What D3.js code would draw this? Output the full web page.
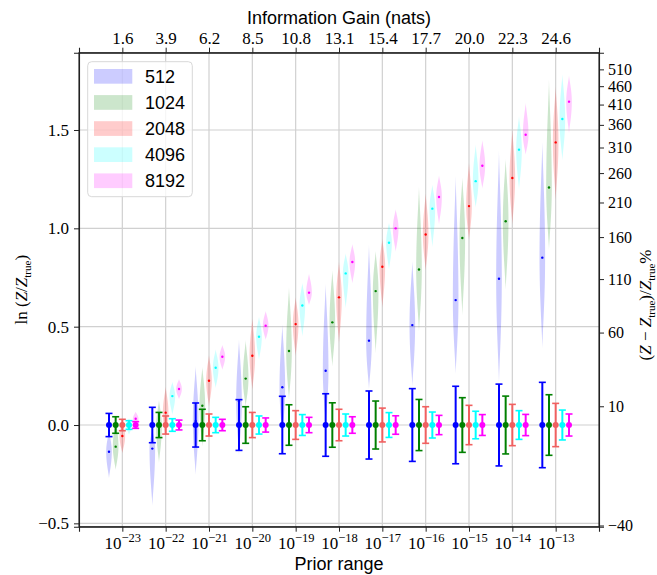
<!DOCTYPE html>
<html>
<head>
<meta charset="utf-8">
<script src="https://cdnjs.cloudflare.com/ajax/libs/d3/7.8.5/d3.min.js"></script>
<style>
body { margin: 0; background: #fff; }
.tick text { font-family: "Liberation Serif", "Times New Roman", serif; font-size: 17px; fill: #000; }
.pct .tick text { font-size: 16px; }
.sans { font-family: "Liberation Sans", Arial, sans-serif; }
.serif { font-family: "Liberation Serif", "Times New Roman", serif; }
</style>
</head>
<body>
<div id="chart"></div>
<script>

///// Data

// prior ranges on the bottom axis and information gain on the top axis
var priorRanges = [1e-23, 1e-22, 1e-21, 1e-20, 1e-19, 1e-18, 1e-17, 1e-16, 1e-15, 1e-14, 1e-13];
var infoGain = ["1.6", "3.9", "6.2", "8.5", "10.8", "13.1", "15.4", "17.7", "20.0", "22.3", "24.6"];
var nSamples = [512, 1024, 2048, 4096, 8192];

// error bar half lengths (one row per sample size)
var errHalf = [
    [0.059, 0.090, 0.112, 0.129, 0.146, 0.159, 0.173, 0.185, 0.197, 0.208, 0.217],
    [0.042, 0.064, 0.080, 0.093, 0.103, 0.113, 0.122, 0.130, 0.139, 0.147, 0.154],
    [0.029, 0.046, 0.056, 0.064, 0.073, 0.080, 0.086, 0.093, 0.100, 0.105, 0.110],
    [0.022, 0.032, 0.039, 0.046, 0.053, 0.056, 0.063, 0.066, 0.070, 0.073, 0.076],
    [0.017, 0.025, 0.029, 0.036, 0.039, 0.042, 0.047, 0.049, 0.053, 0.054, 0.056]
];

// violin centre, bottom and top of ln(Z/Ztrue)
var violinMid = [
    [-0.136, -0.120, 0.020, 0.120, 0.192, 0.276, 0.429, 0.508, 0.635, 0.744, 0.851],
    [-0.110, -0.010, 0.098, 0.236, 0.376, 0.522, 0.681, 0.791, 0.951, 1.036, 1.208],
    [-0.056, 0.063, 0.225, 0.352, 0.513, 0.649, 0.805, 0.969, 1.113, 1.256, 1.437],
    [0.000, 0.147, 0.291, 0.449, 0.608, 0.771, 0.927, 1.100, 1.240, 1.400, 1.556],
    [0.032, 0.183, 0.347, 0.505, 0.673, 0.829, 1.000, 1.159, 1.318, 1.476, 1.644]
];
var violinLow = [
    [-0.271, -0.412, -0.254, -0.153, -0.060, 0.000, 0.180, 0.195, 0.259, 0.210, 0.390],
    [-0.229, -0.193, -0.110, 0.093, 0.127, 0.297, 0.364, 0.474, 0.556, 0.686, 0.890],
    [-0.144, -0.060, 0.093, 0.178, 0.351, 0.415, 0.595, 0.785, 0.940, 1.018, 1.144],
    [-0.050, 0.051, 0.187, 0.330, 0.449, 0.593, 0.788, 0.903, 1.105, 1.195, 1.344],
    [-0.017, 0.131, 0.280, 0.432, 0.610, 0.720, 0.880, 1.018, 1.201, 1.374, 1.483]
];
var violinHigh = [
    [-0.030, -0.020, 0.300, 0.436, 0.512, 0.720, 0.920, 0.834, 1.270, 1.398, 1.440],
    [0.030, 0.127, 0.296, 0.432, 0.703, 0.788, 0.886, 1.215, 1.259, 1.354, 1.760],
    [0.017, 0.195, 0.356, 0.542, 0.649, 0.830, 0.946, 1.178, 1.334, 1.500, 1.720],
    [0.034, 0.220, 0.385, 0.551, 0.723, 0.873, 1.030, 1.222, 1.427, 1.571, 1.784],
    [0.068, 0.234, 0.407, 0.580, 0.771, 0.920, 1.098, 1.270, 1.449, 1.639, 1.778]
];

// axis ticks
var yTicks = [-0.5, 0.0, 0.5, 1.0, 1.5];
var pctTicks = [-40, 10, 60, 110, 160, 210, 260, 310, 360, 410, 460, 510];

// colours
var colors = ["#0000ff", "#008000", "#ff0000", "#00ffff", "#ff00ff"];
var barColors = ["#0000ff", "#008000", "#f06060", "#00ffff", "#ff00ff"];


///// Layout

var W = 657, H = 575;
var margin = {top: 52.7, right: 58, bottom: 48.3, left: 79};
var width = W - margin.left - margin.right,
    height = H - margin.top - margin.bottom;

var x = d3.scaleLog().domain([1e-24, 1e-12]).range([0, width]);
var y = d3.scaleLinear().domain([-0.517, 1.893]).range([height, 0]);
// right axis: percentage difference, placed at ln(1 + p/100)
var yPct = d3.scaleLog().domain([Math.exp(-0.517), Math.exp(1.893)]).range([height, 0]);

// offset of each sample size inside a prior group (decades)
var groupStep = 0.154;
var violinWidth = 0.13;

var svg = d3.select("#chart")
    .append("svg")
        .attr("width", W)
        .attr("height", H)
    .append("g")
        .attr("transform", "translate(" + margin.left + "," + margin.top + ")");

function xPos(i, j) {
    return x(priorRanges[j] * Math.pow(10, (i - 2) * groupStep));
}

// Grid
svg.append("g")
    .selectAll("line.vg")
    .data(priorRanges)
    .enter().append("line")
        .attr("x1", function(d) { return x(d); })
        .attr("x2", function(d) { return x(d); })
        .attr("y1", 0).attr("y2", height)
        .attr("stroke", "#d0d0d0").attr("stroke-width", 1.2);

svg.append("g")
    .selectAll("line.hg")
    .data(yTicks)
    .enter().append("line")
        .attr("x1", 0).attr("x2", width)
        .attr("y1", function(d) { return y(d); })
        .attr("y2", function(d) { return y(d); })
        .attr("stroke", "#d0d0d0").attr("stroke-width", 1.2);

// Violins
var halfW = (x(1e-20 * Math.pow(10, violinWidth / 2)) - x(1e-20));

function violinPoints(lo, mid, hi) {
    var pts = [], n = 40;
    for (var k = 0; k <= n; k++) {
        var v = lo + (hi - lo) * k / n;
        var u = v < mid ? (mid - v) / (mid - lo) : (v - mid) / (hi - mid);
        u = Math.min(1, u);
        pts.push({v: v, w: Math.pow(1 - u * u, 1.4)});
    }
    return pts;
}

var violins = svg.append("g");
nSamples.forEach(function(n, i) {
    priorRanges.forEach(function(p, j) {
        var cx = xPos(i, j);
        var area = d3.area()
            .y(function(d) { return y(d.v); })
            .x0(function(d) { return cx - halfW * d.w; })
            .x1(function(d) { return cx + halfW * d.w; })
            .curve(d3.curveBasis);
        violins.append("path")
            .datum(violinPoints(violinLow[i][j], violinMid[i][j], violinHigh[i][j]))
            .attr("d", area)
            .attr("fill", colors[i])
            .attr("fill-opacity", 0.2);
        violins.append("circle")
            .attr("cx", cx)
            .attr("cy", y(violinMid[i][j]))
            .attr("r", 1.2)
            .attr("fill", colors[i]);
    });
});

// Error bars around zero
var bars = svg.append("g");
nSamples.forEach(function(n, i) {
    priorRanges.forEach(function(p, j) {
        var cx = xPos(i, j), e = errHalf[i][j];
        var g = bars.append("g").attr("stroke", barColors[i]);
        g.append("line")
            .attr("x1", cx).attr("x2", cx)
            .attr("y1", y(-e)).attr("y2", y(e))
            .attr("stroke-width", 2);
        [-e, e].forEach(function(v) {
            g.append("line")
                .attr("x1", cx - 3.5).attr("x2", cx + 3.5)
                .attr("y1", y(v)).attr("y2", y(v))
                .attr("stroke-width", 1.6);
        });
        g.append("circle")
            .attr("cx", cx).attr("cy", y(0))
            .attr("r", 3)
            .attr("stroke", "none")
            .attr("fill", barColors[i]);
    });
});

// Axes
var xAxis = svg.append("g")
    .attr("transform", "translate(0," + height + ")")
    .call(d3.axisBottom(x).tickValues(priorRanges).tickSize(5).tickPadding(4));

xAxis.selectAll(".tick text").each(function(d) {
    var t = d3.select(this);
    var ex = Math.round(Math.log10(d));
    t.text(null).attr("dy", null).attr("y", 22.5);
    t.append("tspan").text("10");
    t.append("tspan").attr("dy", -7).style("font-size", "12.5px").text("\u2212" + Math.abs(ex));
});

svg.append("g")
    .call(d3.axisTop(x).tickValues(priorRanges).tickSize(5).tickPadding(4)
        .tickFormat(function(d, i) { return infoGain[i]; }));

svg.append("g")
    .call(d3.axisLeft(y).tickValues(yTicks).tickSize(5).tickPadding(5)
        .tickFormat(d3.format(".1f")));

svg.append("g")
    .attr("class", "pct")
    .attr("transform", "translate(" + width + ",0)")
    .call(d3.axisRight(yPct)
        .tickValues(pctTicks.map(function(p) { return 1 + p / 100; }))
        .tickSize(5).tickPadding(4)
        .tickFormat(function(d) { return String(Math.round((d - 1) * 100)).replace("-", "\u2212"); }));

svg.selectAll(".domain").attr("stroke", "#222").attr("stroke-width", 1.1);
svg.selectAll(".tick line").attr("stroke", "#222");

// frame
svg.append("rect")
    .attr("width", width).attr("height", height)
    .attr("fill", "none").attr("stroke", "#222").attr("stroke-width", 1.1);

// Labels
var root = d3.select("svg");

root.append("text")
    .attr("class", "sans")
    .attr("x", margin.left + width / 2).attr("y", 24)
    .attr("text-anchor", "middle")
    .style("font-size", "18px")
    .text("Information Gain (nats)");

root.append("text")
    .attr("class", "sans")
    .attr("x", margin.left + width / 2).attr("y", 570)
    .attr("text-anchor", "middle")
    .style("font-size", "18px")
    .text("Prior range");

var yl = root.append("text")
    .attr("class", "serif")
    .attr("transform", "translate(27," + (margin.top + height / 2) + ") rotate(-90)")
    .attr("text-anchor", "middle")
    .style("font-size", "17px");
yl.append("tspan").text("ln (");
yl.append("tspan").style("font-style", "italic").text("Z");
yl.append("tspan").text("/");
yl.append("tspan").style("font-style", "italic").text("Z");
yl.append("tspan").attr("dy", 4).style("font-size", "11px").text("true");
yl.append("tspan").attr("dy", -4).text(")");

var yr = root.append("text")
    .attr("class", "serif")
    .attr("transform", "translate(651,305) rotate(-90)")
    .attr("text-anchor", "middle")
    .style("font-size", "17px");
yr.append("tspan").text("(");
yr.append("tspan").style("font-style", "italic").text("Z");
yr.append("tspan").text(" \u2212 ");
yr.append("tspan").style("font-style", "italic").text("Z");
yr.append("tspan").attr("dy", 4).style("font-size", "11px").text("true");
yr.append("tspan").attr("dy", -4).text(")/");
yr.append("tspan").style("font-style", "italic").text("Z");
yr.append("tspan").attr("dy", 4).style("font-size", "11px").text("true");
yr.append("tspan").attr("dy", -4).text("%");

// Legend
var legend = root.append("g").attr("transform", "translate(87.7,61.7)");
legend.append("rect")
    .attr("width", 104.6).attr("height", 135)
    .attr("rx", 4)
    .attr("fill", "#fff").attr("fill-opacity", 0.8)
    .attr("stroke", "#d8d8d8");

nSamples.forEach(function(n, i) {
    var cy = 14.6 + i * 26.1;
    legend.append("rect")
        .attr("x", 6.3).attr("y", cy - 7.3)
        .attr("width", 38.3).attr("height", 14.7)
        .attr("fill", colors[i]).attr("fill-opacity", 0.2);
    legend.append("text")
        .attr("class", "sans")
        .attr("x", 57.3).attr("y", cy)
        .attr("dy", "0.36em")
        .style("font-size", "18px")
        .text(n);
});

</script>
</body>
</html>
